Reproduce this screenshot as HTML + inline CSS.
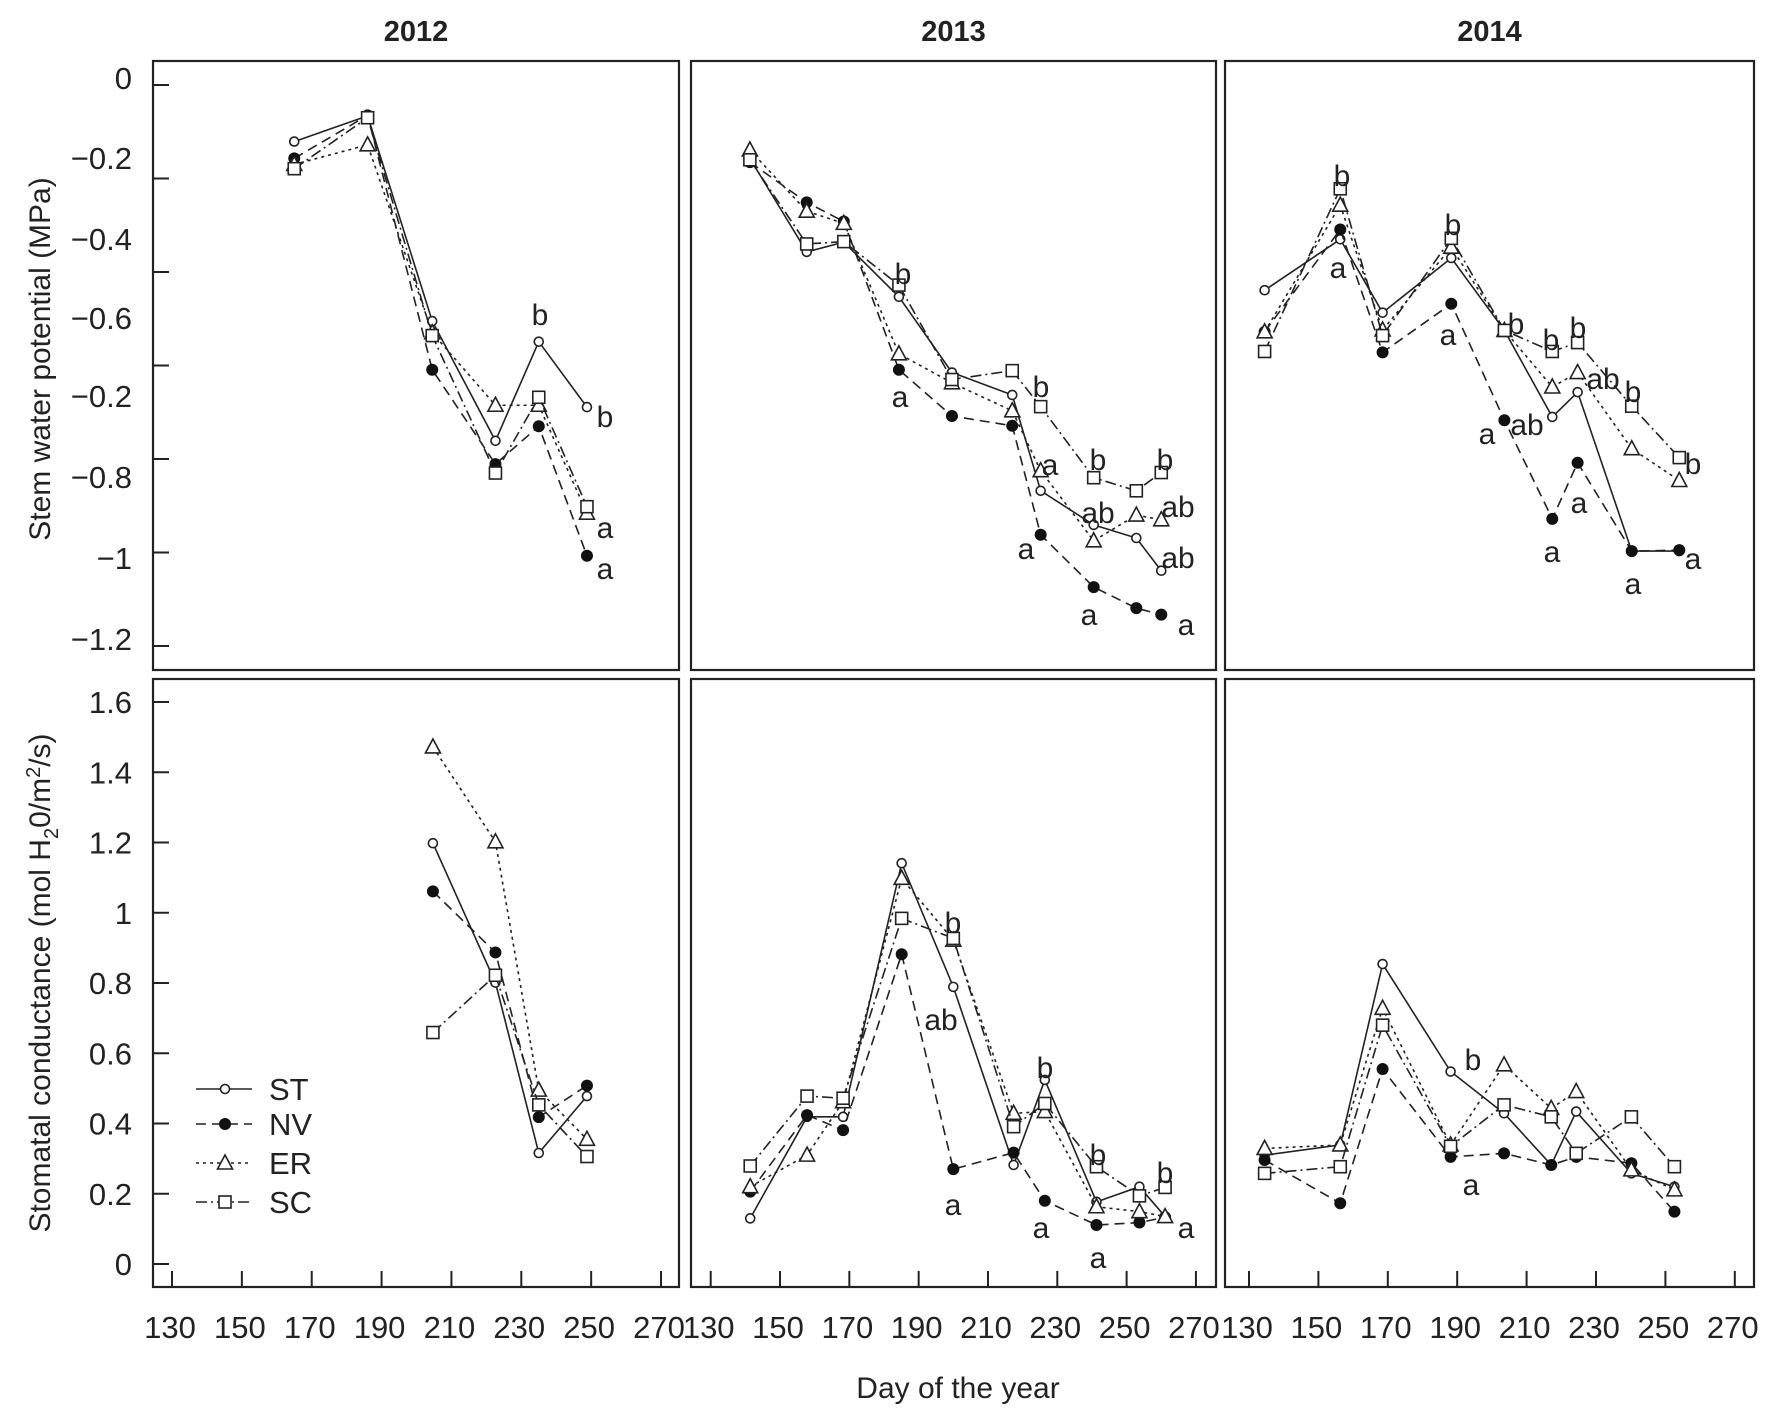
<!DOCTYPE html>
<html><head><meta charset="utf-8"><style>
html,body{margin:0;padding:0;background:#fff;}
svg{display:block;font-family:"Liberation Sans Narrow","Liberation Sans",sans-serif;}
</style></head><body>
<svg id="fig" xmlns="http://www.w3.org/2000/svg" width="1774" height="1417" viewBox="0 0 1774 1417">
<rect width="1774" height="1417" fill="#fff"/>
<text x="958" y="1398" font-size="30" text-anchor="middle" fill="#222">Day of the year</text>
<text transform="translate(50,359) rotate(-90)" font-size="30" text-anchor="middle" fill="#222">Stem water potential (MPa)</text>
<text transform="translate(50,983) rotate(-90)" font-size="30" text-anchor="middle" fill="#222">Stomatal conductance (mol H<tspan font-size="20" dy="8">2</tspan><tspan dy="-8">0/m</tspan><tspan font-size="20" dy="-10">2</tspan><tspan dy="10">/s)</tspan></text>
</svg>
<script>
// ---- data ----
const xTicks = [130,150,170,190,210,230,250,270];
const topTickVals = [0,-0.2,-0.4,-0.6,-0.8,-1,-1.2];
const topTickLabels = ["0","\u22120.2","\u22120.4","\u22120.6","\u22120.2","\u22120.8","\u22121","\u22121.2"];
const botTickVals = [1.6,1.4,1.2,1,0.8,0.6,0.4,0.2,0];
const botTickLabels = ["1.6","1.4","1.2","1","0.8","0.6","0.4","0.2","0"];
const years = ["2012","2013","2014"];
const seriesNames = ["ST","NV","ER","SC"];

const topDays2012 = [165,186,204.5,222.6,235,248.8];
const topST2012 = [-0.121,-0.066,-0.505,-0.761,-0.549,-0.689];
const topNV2012 = [-0.157,-0.065,-0.609,-0.811,-0.73,-1.007];
const topER2012 = [-0.17,-0.128,-0.53,-0.685,-0.685,-0.916];
const topSC2012 = [-0.179,-0.07,-0.536,-0.83,-0.668,-0.902];

const topDays2013 = [141.3,157.7,168.4,184.3,199.6,217,225.2,240.5,252.8,260];
const topST2013 = [-0.157,-0.357,-0.336,-0.453,-0.615,-0.663,-0.868,-0.941,-0.969,-1.039];
const topNV2013 = [-0.165,-0.251,-0.292,-0.609,-0.708,-0.729,-0.962,-1.074,-1.119,-1.133];
const topER2013 = [-0.139,-0.27,-0.296,-0.575,-0.637,-0.697,-0.825,-0.975,-0.92,-0.93];
const topSC2013 = [-0.16,-0.34,-0.335,-0.428,-0.63,-0.611,-0.688,-0.84,-0.868,-0.829];

const topDays2014 = [134.5,156.3,168.5,188.3,203.6,217.4,224.7,240.3,254];
const topST2014 = [-0.439,-0.33,-0.487,-0.37,-0.525,-0.71,-0.657,-0.997,-0.997];
const topNV2014 = [-0.528,-0.309,-0.572,-0.468,-0.717,-0.928,-0.808,-0.997,-0.995];
const topER2014 = [-0.528,-0.257,-0.524,-0.347,-0.525,-0.646,-0.615,-0.778,-0.846];
const topSC2014 = [-0.57,-0.222,-0.536,-0.328,-0.525,-0.57,-0.551,-0.687,-0.797];

const botDays2012 = [204.7,222.6,235,248.8];
const botST2012 = [1.198,0.801,0.316,0.478];
const botNV2012 = [1.061,0.887,0.418,0.508];
const botER2012 = [1.472,1.202,0.495,0.355];
const botSC2012 = [0.659,0.822,0.453,0.306];

const botDays2013 = [141.4,157.8,168.2,185.1,200,217.4,226.4,241.3,253.7,261.1];
const botST2013 = [0.13,0.419,0.419,1.141,0.789,0.282,0.524,0.177,0.22,0.135];
const botNV2013 = [0.206,0.424,0.381,0.882,0.27,0.317,0.18,0.111,0.118,0.133];
const botER2013 = [0.22,0.31,0.462,1.098,0.922,0.429,0.434,0.163,0.149,0.135];
const botSC2013 = [0.279,0.478,0.472,0.984,0.927,0.391,0.457,0.277,0.194,0.218];

const botDays2014 = [134.5,156.3,168.5,188.1,203.5,217.1,224.3,240.2,252.6];
const botST2014 = [0.31,0.339,0.854,0.548,0.429,0.282,0.434,0.258,0.22];
const botNV2014 = [0.296,0.173,0.555,0.305,0.315,0.282,0.305,0.287,0.149];
const botER2014 = [0.329,0.339,0.728,0.339,0.567,0.443,0.491,0.268,0.211];
const botSC2014 = [0.258,0.277,0.68,0.335,0.453,0.419,0.315,0.419,0.277];

const lettersText = [
 ["b",540,315],["b",605,417],["a",605,528],["a",605,569],
 ["b",903,274],["a",900,397],["b",1041,387],["a",1050,465],["a",1026,549],["b",1098,460],["ab",1098,513],["a",1089,615],["b",1165,460],["ab",1178,507],["ab",1178,558],["a",1186,625],
 ["b",1342,176],["a",1338,268],["b",1453,225],["a",1448,335],["b",1516,324],["b",1551,340],["b",1578,328],["ab",1603,379],["b",1633,392],["a",1487,434],["ab",1527,425],["a",1579,503],["a",1552,552],["a",1633,584],["b",1693,464],["a",1693,559],
 ["b",953,923],["ab",941,1020],["a",953,1205],["b",1045,1068],["a",1041,1228],["b",1098,1155],["a",1098,1258],["b",1165,1173],["a",1186,1228],
 ["b",1473,1060],["a",1471,1185]
];

// ---- layout ----
const NS = "http://www.w3.org/2000/svg";
const svg = document.getElementById("fig");
const panelsX = [{l:153,r:679,x0:172,k:3.493},{l:691,r:1216,x0:710.7,k:3.466},{l:1225,r:1754,x0:1249,k:3.47}];
const topRow = {t:61,b:670,y0:85,k:467.5};
const botRow = {t:679,b:1287,y0:1264,k:351.25};
const styles = {ST:{dash:"none"},NV:{dash:"10,6"},ER:{dash:"3,4"},SC:{dash:"11,4,2,4"}};

function mk(tag, attrs){const e=document.createElementNS(NS,tag);for(const a in attrs)e.setAttribute(a,attrs[a]);return e;}

function marker(g, name, x, y){
  let m;
  if(name==="ST"){m=mk("circle",{cx:x,cy:y,r:4.5,fill:"#fff",stroke:"#222","stroke-width":1.6});}
  else if(name==="NV"){m=mk("circle",{cx:x,cy:y,r:6,fill:"#111"});}
  else if(name==="ER"){m=mk("polygon",{points:`${x},${y-8} ${x-7.5},${y+6} ${x+7.5},${y+6}`,fill:"#fff",stroke:"#222","stroke-width":1.6});}
  else {m=mk("rect",{x:x-6,y:y-6,width:12,height:12,fill:"#fff",stroke:"#222","stroke-width":1.6});}
  
  
  g.appendChild(m);
}

function drawSeries(g, name, days, vals, px, row){
  const sx = d => px.x0 + (d-130)*px.k;
  const sy = v => row.y0 - v*row.k;
  const pts = days.map((d,i)=>sx(d)+","+sy(vals[i])).join(" ");
  const line = mk("polyline",{points:pts,fill:"none",stroke:"#222","stroke-width":1.6,"stroke-dasharray":styles[name].dash});
  
  
  g.appendChild(line);
  days.forEach((d,i)=>marker(g,name,sx(d),sy(vals[i])));
}

function drawPanel(pi, row, isTop, dataSets, days){
  const px = panelsX[pi];
  const g = mk("g",{});
  
  
  svg.appendChild(g);
  const frame = mk("rect",{x:px.l,y:row.t,width:px.r-px.l,height:row.b-row.t,fill:"none",stroke:"#222","stroke-width":2.2});
  
  
  g.appendChild(frame);
  if(pi===0){
    const vals = isTop?topTickVals:botTickVals;
    vals.forEach(v=>{
      const y=row.y0 - v*row.k;
      const t=mk("line",{x1:px.l,x2:px.l+16,y1:y,y2:y,stroke:"#222","stroke-width":2});
      
      
      g.appendChild(t);
    });
    if(isTop){
      const labY=[78,158,239,318,396,477,558,639];
      topTickLabels.forEach((s,i)=>{
        const t=mk("text",{x:132,y:labY[i]+11,"font-size":31,"text-anchor":"end",fill:"#222"});
        t.textContent=s;
        
        
        g.appendChild(t);
      });
    } else {
      botTickLabels.forEach((s,i)=>{
        const y=row.y0 - botTickVals[i]*row.k;
        const t=mk("text",{x:132,y:y+11,"font-size":31,"text-anchor":"end",fill:"#222"});
        t.textContent=s;
        
        
        g.appendChild(t);
      });
    }
  }
  if(!isTop){
    xTicks.forEach(d=>{
      const x=px.x0+(d-130)*px.k;
      const t=mk("line",{x1:x,x2:x,y1:row.b,y2:row.b-16,stroke:"#222","stroke-width":2});
      
      
      g.appendChild(t);
      const lb=mk("text",{x:x-2,y:1338,"font-size":31,"text-anchor":"middle",fill:"#222"});
      lb.textContent=String(d);
      
      
      g.appendChild(lb);
    });
  } else {
    const tt=mk("text",{x:(px.l+px.r)/2,y:41,"font-size":29,"font-weight":"bold","text-anchor":"middle",fill:"#222"});
    tt.textContent=years[pi];
    
    
    g.appendChild(tt);
  }
  seriesNames.forEach((n,i)=>drawSeries(g,n,days,dataSets[i],px,row));
}

drawPanel(0, topRow, true, [topST2012,topNV2012,topER2012,topSC2012], topDays2012);
drawPanel(1, topRow, true, [topST2013,topNV2013,topER2013,topSC2013], topDays2013);
drawPanel(2, topRow, true, [topST2014,topNV2014,topER2014,topSC2014], topDays2014);
drawPanel(0, botRow, false, [botST2012,botNV2012,botER2012,botSC2012], botDays2012);
drawPanel(1, botRow, false, [botST2013,botNV2013,botER2013,botSC2013], botDays2013);
drawPanel(2, botRow, false, [botST2014,botNV2014,botER2014,botSC2014], botDays2014);

// significance letters
lettersText.forEach(([s,x,y])=>{
  const t=mk("text",{x:x,y:y+10,"font-size":30,"text-anchor":"middle",fill:"#222"});
  t.textContent=s;
  
  
  svg.appendChild(t);
});

// legend
const lg = mk("g",{});


svg.appendChild(lg);
const legY=[1089,1124,1163,1202];
seriesNames.forEach((n,i)=>{
  const e=mk("g",{});
  
  
  lg.appendChild(e);
  const l=mk("line",{x1:196,x2:252,y1:legY[i],y2:legY[i],stroke:"#222","stroke-width":1.6,"stroke-dasharray":styles[n].dash});
  
  
  e.appendChild(l);
  marker(e,n,225,legY[i]);
  const t=mk("text",{x:269,y:legY[i]+11,"font-size":31,fill:"#222"});
  t.textContent=n;
  
  
  e.appendChild(t);
});
</script>
</body></html>
